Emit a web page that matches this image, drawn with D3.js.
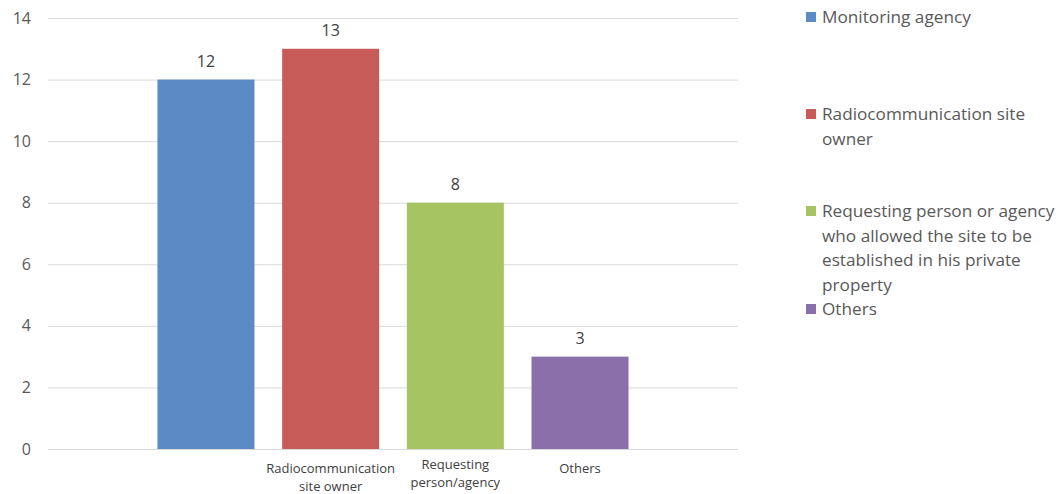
<!DOCTYPE html>
<html><head><meta charset="utf-8">
<script src="https://cdn.jsdelivr.net/npm/d3@7"></script>
<style>body{margin:0;background:#fff;}svg{display:block;font-family:"Open Sans","Noto Sans",sans-serif;}</style>
</head><body>
<svg id="c" width="1061" height="494"></svg>
<script>
const categories = ["Monitoring agency","Radiocommunication site owner","Requesting person or agency who allowed the site to be established in his private property","Others"];
const values = [12, 13, 8, 3];
const axisLabels = [[], ["Radiocommunication","site owner"], ["Requesting","person/agency"], ["Others"]];
const legendLines = [["Monitoring agency"],["Radiocommunication site","owner"],["Requesting person or agency","who allowed the site to be","established in his private","property"],["Others"]];
const colors = ["#5B8AC5","#C75B57","#A6C462","#8B6FAB"];
const yTicks = [0,2,4,6,8,10,12,14];

const svg = d3.select("#c");
const plotL = 48, plotR = 738, plotT = 18, plotB = 449;
const x = d3.scaleBand().domain(categories).range([plotL, plotR]).paddingInner(0.222).paddingOuter(0.878);
const y = d3.scaleLinear().domain([0,14]).range([plotB, plotT]);

// gridlines
svg.append("g").selectAll("line").data(yTicks).join("line")
  .attr("x1", plotL).attr("x2", plotR)
  .attr("y1", d => y(d) + 0.5).attr("y2", d => y(d) + 0.5)
  .attr("stroke", "#d9d9d9").attr("stroke-width", 1);

// y axis labels
const yAxis = d3.axisLeft(y).tickValues(yTicks).tickSize(0).tickPadding(0);
const ga = svg.append("g").attr("transform", `translate(31,0)`).call(yAxis);
ga.select(".domain").remove();
ga.selectAll("text").attr("fill", "#595959").style("font-size", "16px").style("font-family", "'Open Sans',sans-serif");

// bars
svg.append("g").selectAll("rect").data(values).join("rect")
  .attr("x", (d,i) => x(categories[i]))
  .attr("width", x.bandwidth())
  .attr("y", d => y(d))
  .attr("height", d => y(0) - y(d))
  .attr("fill", (d,i) => colors[i]);

// value labels
svg.append("g").selectAll("text").data(values).join("text")
  .attr("x", (d,i) => x(categories[i]) + x.bandwidth()/2)
  .attr("y", d => y(d) - 13)
  .attr("text-anchor", "middle")
  .attr("fill", "#404040").style("font-size", "16px")
  .text(d => d);

// x category labels
const labelTop = [0, 473, 469, 473];
axisLabels.forEach((lines, i) => {
  const cx = x(categories[i]) + x.bandwidth()/2;
  const t = svg.append("text")
    .attr("x", cx)
    .attr("y", labelTop[i])
    .attr("text-anchor", "middle")
    .attr("fill", "#404040").style("font-size", "13px");
  lines.forEach((l, j) => t.append("tspan").attr("x", cx).attr("dy", j === 0 ? 0 : 17.5).text(l));
});

// legend
const legTops = [17, 114, 211, 309];
legendLines.forEach((lines, i) => {
  svg.append("rect").attr("x", 806).attr("y", legTops[i] - 5).attr("width", 10).attr("height", 10).attr("fill", colors[i]);
  const t = svg.append("text").attr("x", 822).attr("y", legTops[i] + 6)
    .attr("fill", "#595959").style("font-size", "17.2px");
  lines.forEach((l, j) => t.append("tspan").attr("x", 822).attr("dy", j === 0 ? 0 : 24.5).text(l));
});
</script>
</body></html>
